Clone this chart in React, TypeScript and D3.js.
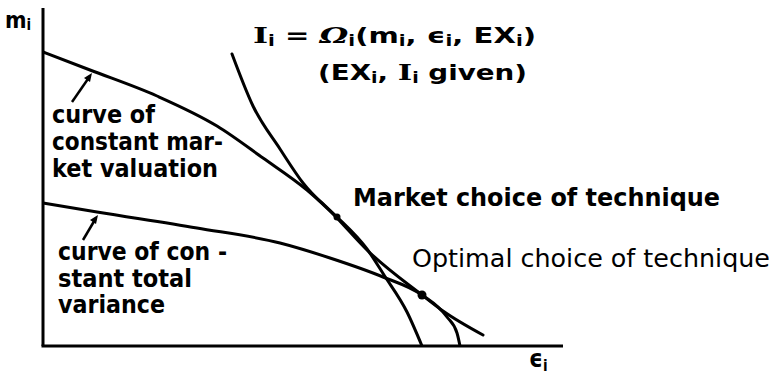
import React from "react";
import * as d3 from "d3";

// Data in chart units (x: epsilon_i, y: m_i)
const marketValX = [0, 47, 114, 174, 220, 264, 294, 324, 341, 364, 379];
const marketValY = [294, 276, 250, 220, 188, 156, 129, 97, 71, 34, 0];

const totalVarX = [0, 54, 154, 237, 287, 340, 379, 404, 414, 417];
const totalVarY = [143, 134, 118, 103, 88, 69, 51, 29, 13, 0];

const isoX = [189, 210, 237, 260, 294, 324, 379, 400, 440];
const isoY = [292, 240, 197, 163, 128, 96, 51, 35, 11];

const marketPoint = { x: 294, y: 129 };
const optimalPoint = { x: 379, y: 51 };

const W = 778;
const H = 377;

export default function App() {
  const x = d3.scaleLinear().domain([0, 500]).range([43, 543]);
  const y = d3.scaleLinear().domain([0, 340]).range([346, 6]);

  const line = d3
    .line<[number, number]>()
    .x((d) => x(d[0]))
    .y((d) => y(d[1]))
    .curve(d3.curveMonotoneX);

  const zip = (a: number[], b: number[]) => a.map((v, i) => [v, b[i]] as [number, number]);

  const bold = {
    fontFamily: "'DejaVu Sans Condensed', 'DejaVu Sans', sans-serif",
    fontWeight: 700,
    fontSize: 24,
    fill: "#000",
  } as React.CSSProperties;

  const sub = { fontSize: 15 } as React.CSSProperties;

  return (
    <svg width={W} height={H} style={{ position: "absolute", left: 0, top: 0, background: "#fff" }}>
      <rect x={0} y={0} width={W} height={H} fill="#fff" />
      {/* axes */}
      <line x1={x(0)} y1={y(338)} x2={x(0)} y2={y(0)} stroke="#000" strokeWidth={3} />
      <line x1={x(0) - 1.5} y1={y(0)} x2={x(520)} y2={y(0)} stroke="#000" strokeWidth={3} />

      {/* curves */}
      <path d={line(zip(marketValX, marketValY)) || ""} fill="none" stroke="#000" strokeWidth={3} />
      <path d={line(zip(totalVarX, totalVarY)) || ""} fill="none" stroke="#000" strokeWidth={3} />
      <path d={line(zip(isoX, isoY)) || ""} fill="none" stroke="#000" strokeWidth={3} strokeLinecap="round" />

      {/* points */}
      <circle cx={x(marketPoint.x)} cy={y(marketPoint.y)} r={3.5} fill="#000" />
      <circle cx={x(optimalPoint.x)} cy={y(optimalPoint.y)} r={4.5} fill="#000" />

      {/* arrows */}
      <line x1={72} y1={102} x2={90} y2={76} stroke="#000" strokeWidth={2.5} />
      <path d="M92,73 L84,78 L90,82 Z" fill="#000" />
      <line x1={83} y1={240} x2={96} y2={218} stroke="#000" strokeWidth={2.5} />
      <path d="M98,215 L90,220 L96,224 Z" fill="#000" />

      {/* axis labels */}
      <text x={5} y={28} style={{ ...bold, fontSize: 23 }}>
        m<tspan style={sub} dy={2}>i</tspan>
      </text>
      <text x={529} y={367} style={{ ...bold, fontSize: 24 }}>
        ϵ<tspan style={sub} dy={4}>i</tspan>
      </text>

      {/* formula */}
      <text x={253} y={43} style={{ ...bold, fontSize: 22 }} textLength={283} lengthAdjust="spacingAndGlyphs">
        <tspan style={{ fontFamily: "'DejaVu Serif', serif" }}>I</tspan>
        <tspan style={sub} dy={3}>i</tspan>
        <tspan dy={-3}> = </tspan>
        <tspan style={{ fontStyle: "italic", fontFamily: "'DejaVu Serif', serif" }}>Ω</tspan>
        <tspan style={sub} dy={3}>i</tspan>
        <tspan dy={-3}>(m</tspan>
        <tspan style={sub} dy={3}>i</tspan>
        <tspan dy={-3}>, ϵ</tspan>
        <tspan style={sub} dy={3}>i</tspan>
        <tspan dy={-3}>, EX</tspan>
        <tspan style={sub} dy={3}>i</tspan>
        <tspan dy={-3}>)</tspan>
      </text>
      <text x={318} y={80} style={{ ...bold, fontSize: 22 }} textLength={209} lengthAdjust="spacingAndGlyphs">
        <tspan>(EX</tspan>
        <tspan style={sub} dy={3}>i</tspan>
        <tspan dy={-3}>, </tspan>
        <tspan style={{ fontFamily: "'DejaVu Serif', serif" }}>I</tspan>
        <tspan style={sub} dy={3}>i</tspan>
        <tspan dy={-3}> given)</tspan>
      </text>

      {/* point labels */}
      <text x={353} y={206} style={{ ...bold, fontSize: 25 }} textLength={367} lengthAdjust="spacingAndGlyphs">
        Market choice of technique
      </text>
      <text x={412} y={267} style={{ ...bold, fontWeight: 400, fontSize: 24 }} textLength={358} lengthAdjust="spacingAndGlyphs">
        Optimal choice of technique
      </text>

      {/* curve labels */}
      <text x={52} y={123} style={bold} textLength={103} lengthAdjust="spacingAndGlyphs">curve of</text>
      <text x={52} y={150} style={bold} textLength={171} lengthAdjust="spacingAndGlyphs">constant mar-</text>
      <text x={52} y={177} style={bold} textLength={166} lengthAdjust="spacingAndGlyphs">ket valuation</text>

      <text x={58} y={260} style={bold} textLength={169} lengthAdjust="spacingAndGlyphs">curve of con -</text>
      <text x={58} y={287} style={bold} textLength={134} lengthAdjust="spacingAndGlyphs">stant total</text>
      <text x={58} y={313} style={bold} textLength={107} lengthAdjust="spacingAndGlyphs">variance</text>
    </svg>
  );
}
